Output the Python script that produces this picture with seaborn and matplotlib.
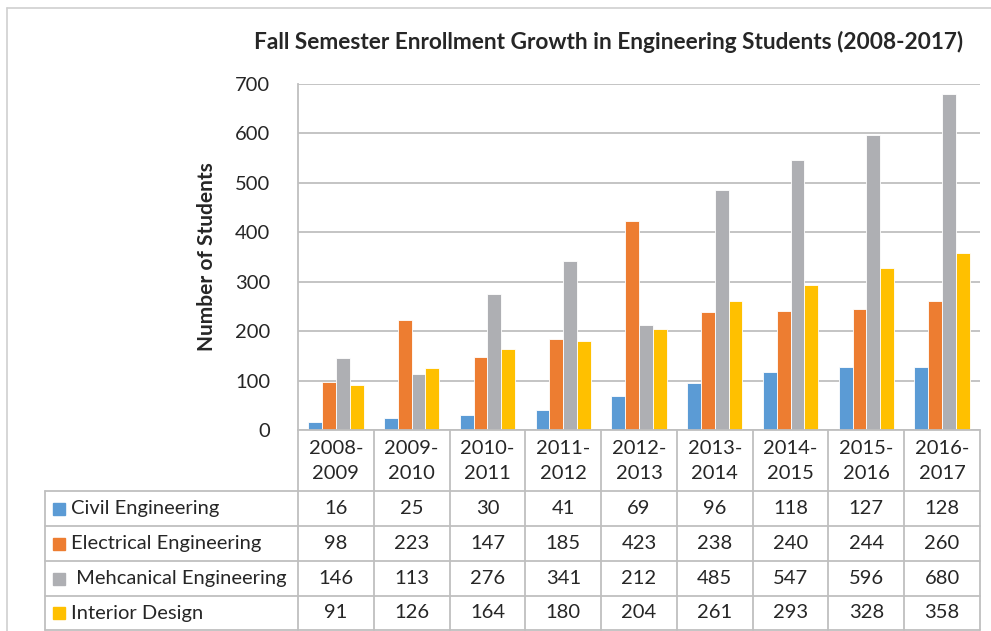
import numpy as np
import pandas as pd
import matplotlib.pyplot as plt
from matplotlib.patches import Rectangle
from matplotlib.lines import Line2D
import seaborn as sns

years = ['2008-\n2009', '2009-\n2010', '2010-\n2011', '2011-\n2012', '2012-\n2013',
         '2013-\n2014', '2014-\n2015', '2015-\n2016', '2016-\n2017']
subjects = ['Civil Engineering', 'Electrical Engineering', ' Mehcanical Engineering', 'Interior Design']
civil = [16, 25, 30, 41, 69, 96, 118, 127, 128]
electrical = [98, 223, 147, 185, 423, 238, 240, 244, 260]
mechanical = [146, 113, 276, 341, 212, 485, 547, 596, 680]
interior = [91, 126, 164, 180, 204, 261, 293, 328, 358]
colors = ['#5B9BD5', '#ED7D31', '#AEAFB3', '#FFC000']

sns.set_theme(style='white')
plt.rcParams['font.family'] = ['Lato', 'DejaVu Sans']

series = [civil, electrical, mechanical, interior]
df = pd.DataFrame({
    'year': years * len(subjects),
    'subject': np.repeat(subjects, len(years)),
    'students': civil + electrical + mechanical + interior,
})

W, H = 991, 631
txt = '#262626'
line_c = '#BFBFBF'
fs = 14.5
fig = plt.figure(figsize=(W / 100, H / 100), dpi=100)

# bar area
ax = fig.add_axes([298 / W, 1 - 430 / H, 682 / W, 346 / H])
sns.barplot(data=df, x='year', y='students', hue='subject', order=years, hue_order=subjects,
            palette=colors, saturation=1, width=0.73, edgecolor='white', linewidth=0.6,
            legend=False, ax=ax)
ax.set_xlim(-0.5, len(years) - 0.5)
ax.set_ylim(0, 700)
ax.set_yticks(range(0, 701, 100))
ax.set_xticks([])
ax.set_xlabel('')
ax.set_ylabel('')
ax.yaxis.grid(True, color=line_c, lw=1.3)
ax.set_axisbelow(True)
for s in ['top', 'right', 'bottom']:
    ax.spines[s].set_visible(False)
ax.spines['left'].set_color(line_c)
ax.spines['left'].set_linewidth(1.3)
ax.tick_params(axis='y', length=0, pad=20, labelsize=fs, labelcolor=txt)

fig.text(609 / W, 1 - 42 / H, 'Fall Semester Enrollment Growth in Engineering Students (2008-2017)',
         ha='center', va='center', fontsize=16.3, fontweight='bold', color=txt)
fig.text(207 / W, 1 - 257 / H, 'Number of Students', rotation=90, ha='center', va='center',
         fontsize=15, fontweight='bold', color=txt)

# data table
tax = fig.add_axes([45 / W, 0, 935 / W, 201 / H])
u = len(years) / 682
xl = -0.5 - (298 - 45) * u
xr = len(years) - 0.5
tax.set_xlim(xl, xr)
tax.set_ylim(631, 430)
tax.axis('off')

rows = [491, 526, 561, 596, 630]
for i in range(len(years) + 1):
    tax.plot([i - 0.5, i - 0.5], [430, 630], color=line_c, lw=1.3, clip_on=False)
tax.plot([xl, xl], [491, 630], color=line_c, lw=1.3, clip_on=False)
tax.plot([-0.5, xr], [430, 430], color=line_c, lw=1.3, clip_on=False)
for r in rows:
    tax.plot([xl, xr], [r, r], color=line_c, lw=1.3, clip_on=False)

for i, y in enumerate(years):
    tax.text(i, 461, y, ha='center', va='center', fontsize=fs, color=txt, linespacing=1.55)

for k, (name, vals, c) in enumerate(zip(subjects, series, colors)):
    yc = (rows[k] + rows[k + 1]) / 2
    tax.add_patch(Rectangle((xl + 8 * u, yc - 6), 12 * u, 12, color=c, clip_on=False))
    tax.text(xl + 26 * u, yc, name, ha='left', va='center', fontsize=fs, color=txt)
    for i, v in enumerate(vals):
        tax.text(i, yc, str(v), ha='center', va='center', fontsize=fs, color=txt)

# outer chart border
fig.add_artist(Line2D([7 / W, 7 / W], [0, 1 - 8 / H], color='#D0D0D0', lw=1.2))
fig.add_artist(Line2D([7 / W, 1], [1 - 8 / H, 1 - 8 / H], color='#D0D0D0', lw=1.2))

fig.savefig('out.png', dpi=100)
